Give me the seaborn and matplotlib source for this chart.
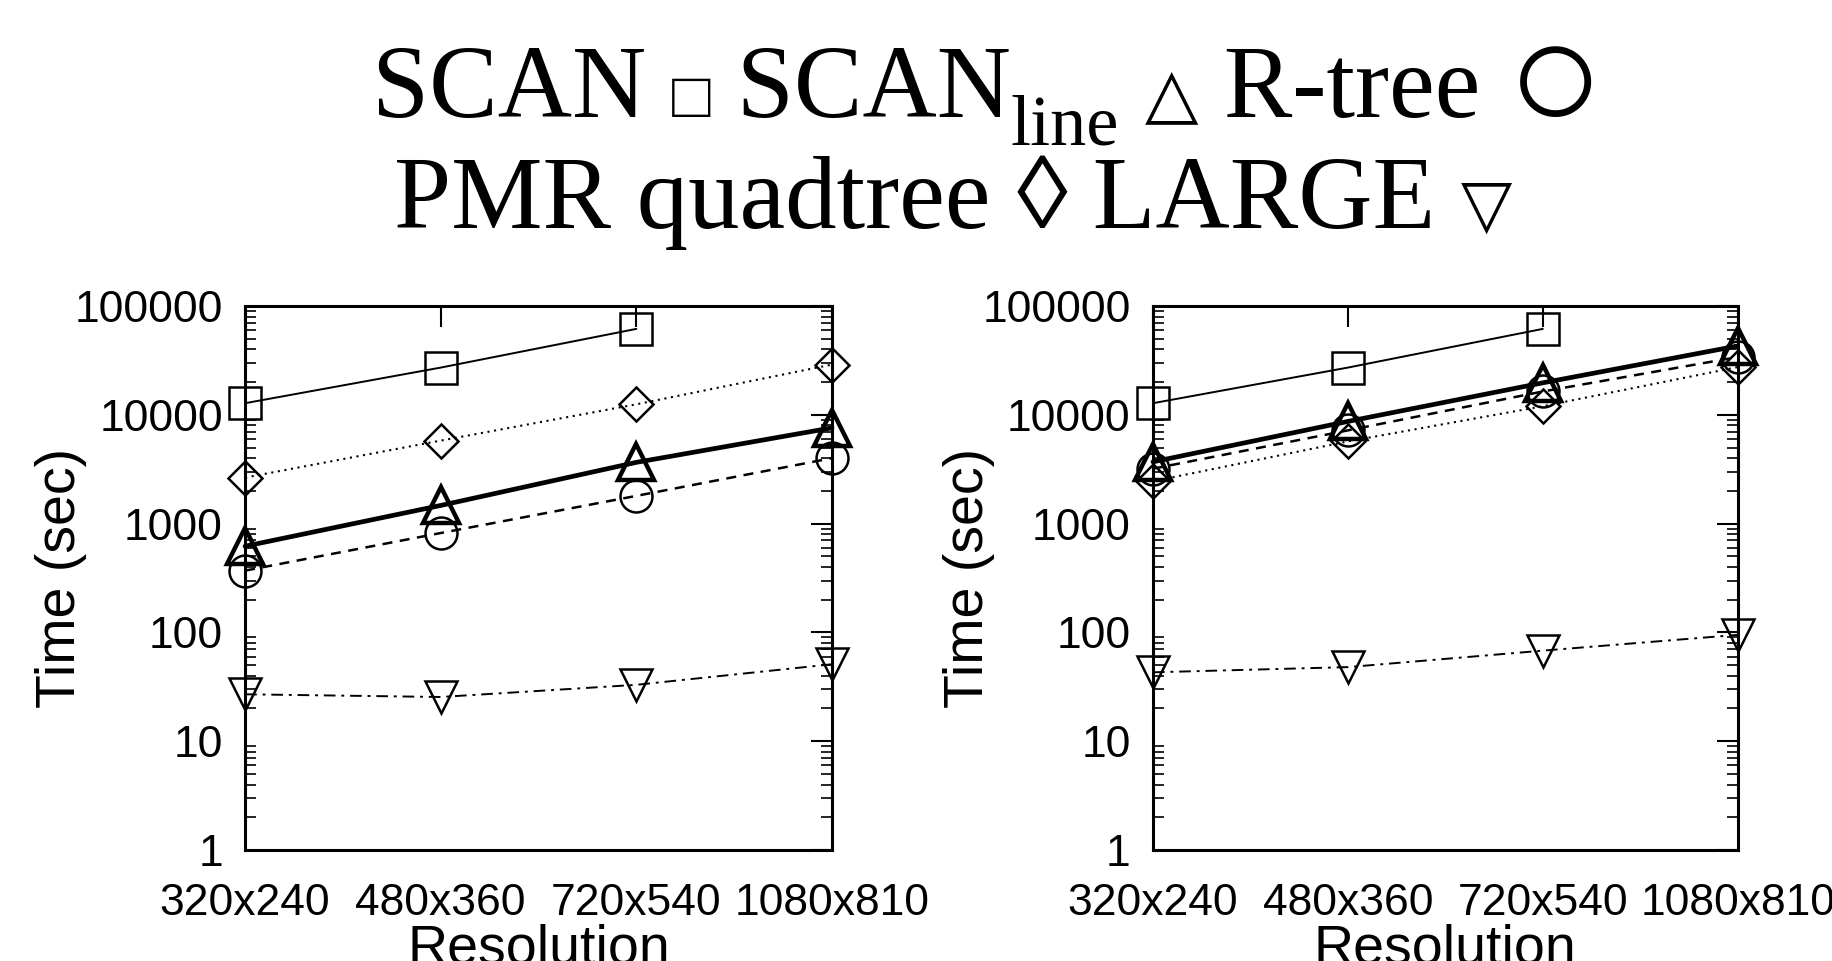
import matplotlib
matplotlib.use("Agg")
import matplotlib.pyplot as plt
import seaborn as sns
import pandas as pd
from matplotlib.ticker import LogLocator, NullFormatter, FixedLocator

# --- dados ---
resolutions = ["320x240", "480x360", "720x540", "1080x810"]

left_scan = [12800, 27200, 61700]
left_scanline = [620, 1470, 3660, 7600]
left_rtree = [370, 820, 1800, 4000]
left_pmr = [2650, 5800, 12500, 29000]
left_large = [27, 25.5, 33, 51]

right_scan = [12800, 27200, 61700]
right_scanline = [3700, 8700, 19700, 43000]
right_rtree = [3200, 7200, 16400, 34000]
right_pmr = [2450, 5700, 12000, 27500]
right_large = [43, 48, 68, 95]

ytick_vals = [1, 10, 100, 1000, 10000, 100000]

# estilo de cada série: marcador, tipo de linha, espessura, tamanho do marcador, borda
styles = {
    "SCAN": ("s", "-", 1.4, 23, 1.8),
    "SCANline": ("^", "-", 3.4, 26, 3.2),
    "R-tree": ("o", (0, (4, 3)), 1.8, 23, 1.8),
    "PMR": ("D", (0, (1, 2.2)), 1.5, 17, 1.8),
    "LARGE": ("v", (0, (6, 3, 1.5, 3)), 1.4, 23, 1.8),
}

sns.set_style("white")
plt.rcParams["font.family"] = ["Liberation Sans", "DejaVu Sans"]
for key in ["text.color", "axes.labelcolor", "xtick.color", "ytick.color"]:
    plt.rcParams[key] = "black"

fig = plt.figure(figsize=(18.33, 9.61), dpi=100)
ax_l = fig.add_axes([0.1337, 0.1155, 0.3202, 0.566])
ax_r = fig.add_axes([0.629, 0.1155, 0.319, 0.566])

panels = [
    (ax_l, {"SCANline": left_scanline, "R-tree": left_rtree, "PMR": left_pmr,
            "LARGE": left_large, "SCAN": left_scan}),
    (ax_r, {"SCANline": right_scanline, "R-tree": right_rtree, "PMR": right_pmr,
            "LARGE": right_large, "SCAN": right_scan}),
]

for ax, series in panels:
    for name, vals in series.items():
        mk, ls, lw, ms, mew = styles[name]
        df = pd.DataFrame({"res": resolutions[:len(vals)], "t": vals})
        sns.lineplot(data=df, x="res", y="t", ax=ax, sort=False, color="black",
                     linestyle=ls, linewidth=lw, marker=mk, markersize=ms,
                     markerfacecolor="none", markeredgecolor="black",
                     markeredgewidth=mew, clip_on=False, zorder=3)
    ax.set_yscale("log")
    ax.set_ylim(1, 100000)
    ax.set_xlim(0, 3)
    ax.set_xticks(range(len(resolutions)))
    ax.set_xticklabels(resolutions)
    ax.yaxis.set_major_locator(FixedLocator(ytick_vals))
    ax.set_yticklabels([str(v) for v in ytick_vals])
    ax.yaxis.set_minor_locator(LogLocator(base=10, subs=range(2, 10), numticks=20))
    ax.yaxis.set_minor_formatter(NullFormatter())
    ax.tick_params(axis="both", which="major", direction="in", length=15, width=1.5,
                   labelsize=32, top=True, right=True, colors="black")
    ax.tick_params(axis="x", which="major", pad=24)
    ax.tick_params(axis="y", which="major", pad=16)
    ax.tick_params(axis="y", which="minor", direction="in", length=8, width=1.2,
                   left=True, right=True)
    for sp in ax.spines.values():
        sp.set_linewidth(2.2)
        sp.set_color("black")
    ax.set_xlabel("Resolution", fontsize=40)
    ax.set_ylabel("Time (sec)", fontsize=40)
    ax.yaxis.set_label_coords(-0.27, 0.5)
    ax.xaxis.set_label_coords(0.5, -0.135)

# --- título em duas linhas (fonte serifada) ---
serif = ["Liberation Serif", "DejaVu Serif"]
renderer = fig.canvas.get_renderer()


def draw_pieces(pieces, cx, y):
    texts = []
    for s, size, dy in pieces:
        t = fig.text(0, y + dy, s, fontsize=size, family=serif, va="baseline",
                     ha="left", color="black")
        texts.append(t)
    widths = [t.get_window_extent(renderer).width / fig.bbox.width for t in texts]
    x = cx - sum(widths) / 2
    for t, w in zip(texts, widths):
        t.set_x(x)
        x += w


big = 74
draw_pieces([("SCAN ", big, 0), ("□", 46, 0.0), (" SCAN", big, 0), ("line", 52, -0.028),
             (" ", big, 0), ("△", 50, 0.002), (" R-tree ", big, 0), ("○", 116, -0.013)],
            0.539, 0.878)
draw_pieces([("PMR quadtree ", big, 0), ("◊", big, 0), (" LARGE ", big, 0), ("▽", 48, 0.002)],
            0.52, 0.763)

fig.savefig("out.png", dpi=100)
